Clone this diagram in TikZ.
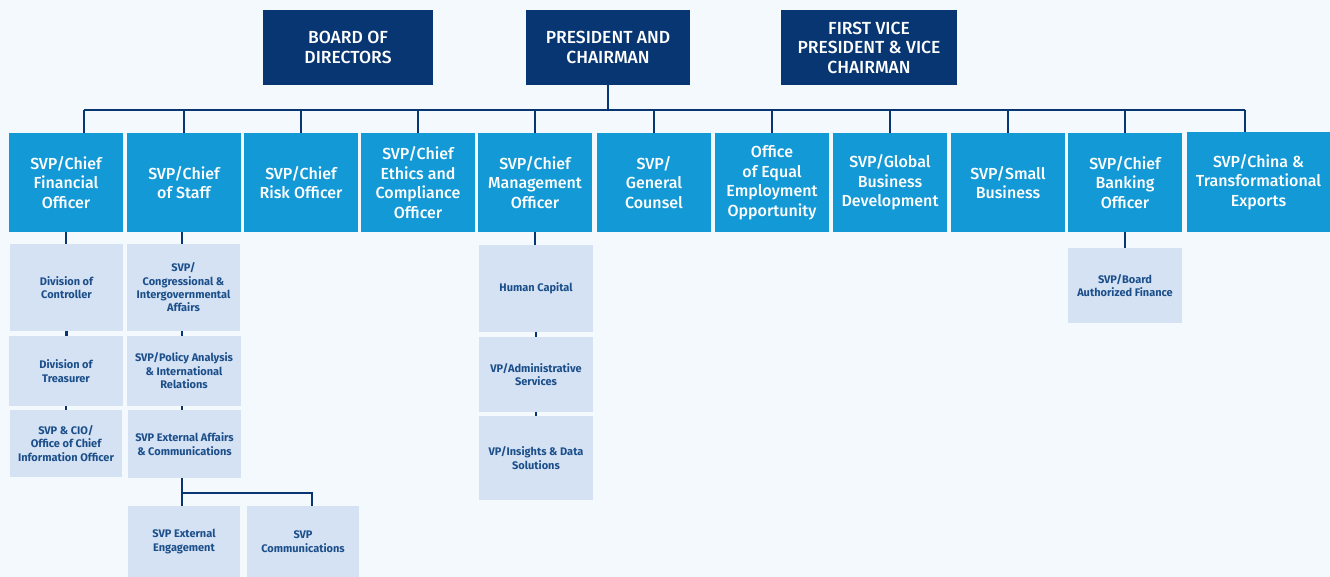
\documentclass[tikz,border=0pt]{standalone}
\usepackage{fontspec}
\setmainfont{Fira Sans}
\newfontfamily\medfont{Fira Sans Medium}
\definecolor{bgc}{HTML}{F3F9FC}
\definecolor{navy}{HTML}{073672}
\definecolor{bblue}{HTML}{1399D5}
\definecolor{lblue}{HTML}{D4E2F4}
\definecolor{stext}{HTML}{1C4F8A}
\begin{document}
\begin{tikzpicture}[x=1pt,y=-1pt,
  box/.style={anchor=north west,inner sep=0pt,outer sep=0pt,align=center},
  topbox/.style={box,fill=navy,text=white,font=\medfont\fontsize{17.5}{19.5}\selectfont},
  bluebox/.style={box,fill=bblue,text=white,minimum width=114pt,font=\medfont\fontsize{16}{19.5}\selectfont},
  subbox/.style={box,fill=lblue,text=stext,minimum width=113pt,font=\bfseries\fontsize{11}{13.4}\selectfont},
  link/.style={draw=navy,line width=2.6pt}]
\fill[bgc] (0,0) rectangle (1330,577);
\useasboundingbox (0,0) rectangle (1330,577);
% top row
\node[topbox,minimum width=170pt,minimum height=75pt] (board) at (263,10) {BOARD OF\\DIRECTORS};
\node[topbox,minimum width=164pt,minimum height=75pt] (pres) at (526,10) {PRESIDENT AND\\CHAIRMAN};
\node[topbox,minimum width=176pt,minimum height=75pt] (fvp) at (781,10) {FIRST VICE\\PRESIDENT \& VICE\\CHAIRMAN};
% second row
\node[bluebox,minimum height=99pt] (b1) at (9,133) {SVP/Chief\\Financial\\Officer};
\node[bluebox,minimum height=99pt] (b2) at (127,133) {SVP/Chief\\of Staff};
\node[bluebox,minimum height=99pt] (b3) at (244,133) {SVP/Chief\\Risk Officer};
\node[bluebox,minimum height=99pt] (b4) at (361,133) {SVP/Chief\\Ethics and\\Compliance\\Officer};
\node[bluebox,minimum height=99pt] (b5) at (478,133) {SVP/Chief\\Management\\Officer};
\node[bluebox,minimum height=99pt] (b6) at (597,133) {SVP/\\General\\Counsel};
\node[bluebox,minimum height=99pt] (b7) at (715,133) {Office\\of Equal\\Employment\\Opportunity};
\node[bluebox,minimum height=99pt] (b8) at (833,133) {SVP/Global\\Business\\Development};
\node[bluebox,minimum height=99pt] (b9) at (951,133) {SVP/Small\\Business};
\node[bluebox,minimum height=99pt] (b10) at (1068,133) {SVP/Chief\\Banking\\Officer};
\node[bluebox,minimum width=143pt,minimum height=100pt] (b11) at (1187,132) {SVP/China \&\\Transformational\\Exports};
% column 1
\node[subbox,minimum height=87pt] (c1) at (10,244) {Division of\\Controller};
\node[subbox,minimum width=114pt,minimum height=70pt] (c2) at (9,336) {Division of\\Treasurer};
\node[subbox,minimum width=112pt,minimum height=67pt] (c3) at (10,410) {SVP \& CIO/\\Office of Chief\\Information Officer};
% column 2
\node[subbox,minimum height=87pt] (d1) at (127,244) {SVP/\\Congressional \&\\Intergovernmental\\Affairs};
\node[subbox,minimum width=114pt,minimum height=70pt] (d2) at (127,336) {SVP/Policy Analysis\\\& International\\Relations};
\node[subbox,minimum height=68pt] (d3) at (128,410) {SVP External Affairs\\\& Communications};
\node[subbox,minimum width=112pt,minimum height=71pt] (eng) at (128,506) {SVP External\\Engagement};
\node[subbox,minimum width=112pt,minimum height=71pt] (comm) at (247,506) {SVP\\Communications};
% column 5
\node[subbox,minimum width=114pt,minimum height=87pt] (h1) at (479,245) {Human Capital};
\node[subbox,minimum width=114pt,minimum height=75pt] (h2) at (479,337) {VP/Administrative\\Services};
\node[subbox,minimum width=114pt,minimum height=84pt] (h3) at (479,416) {VP/Insights \& Data\\Solutions};
% column 10
\node[subbox,minimum width=114pt,minimum height=75pt] (k1) at (1068,248) {SVP/Board\\Authorized Finance};
% connectors
\coordinate (busL) at (84,110);
\coordinate (busR) at (1245,110);
\coordinate (fork) at (182,493);
\coordinate (forkR) at (312,493);
\draw[link] (busL) -- (busR);
\draw[link] (pres.south) -- (pres.south |- busL);
\draw[link] (busL) -- (busL |- b1.north);
\draw[link] (busR) -- (busR |- b11.north);
\foreach \b in {b2,b3,b4,b5,b6,b7,b8,b9,b10}{\draw[link] (\b.north |- busL) -- (\b.north);}
\draw[link] (b1.south) -- (b1.south |- c1.north);
\draw[link] (c1.south) -- (c1.south |- c2.north);
\draw[link] (c2.south) -- (c2.south |- c3.north);
\draw[link] (fork |- b2.south) -- (fork |- d1.north);
\draw[link] (fork |- d1.south) -- (fork |- d2.north);
\draw[link] (fork |- d2.south) -- (fork |- d3.north);
\draw[link] (fork |- d3.south) -- (fork |- eng.north);
\draw[link] (fork) -- (forkR) -- (forkR |- comm.north);
\draw[link] (b5.south) -- (b5.south |- h1.north);
\draw[link] (h1.south) -- (h1.south |- h2.north);
\draw[link] (h2.south) -- (h2.south |- h3.north);
\draw[link] (b10.south) -- (b10.south |- k1.north);
\end{tikzpicture}
\end{document}
